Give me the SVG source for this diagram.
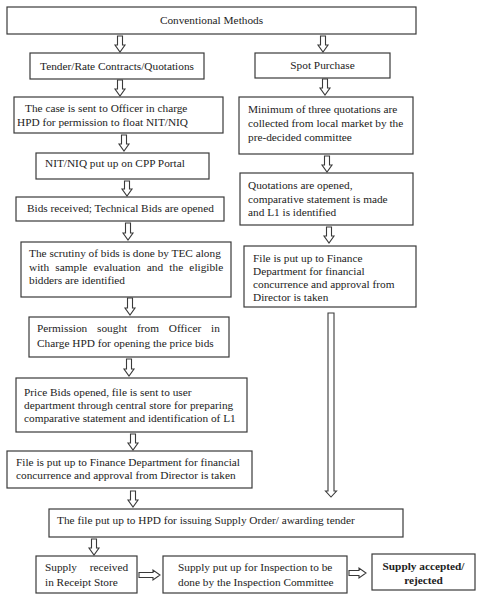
<svg xmlns="http://www.w3.org/2000/svg" width="480" height="596" viewBox="0 0 480 596">
<style>
.box{fill:#fff;stroke:#3a3a3a;stroke-width:1.2}
.t{font-family:"Liberation Serif","Times New Roman",serif;font-size:11.3px;fill:#222}
.c{text-anchor:middle}
.b{font-weight:bold}
.arr{fill:#fff;stroke:#3a3a3a;stroke-width:1.1;stroke-linejoin:miter}
</style>
<rect width="480" height="596" fill="#fff"/>
<g id="connectors">
<path class="arr" d="M117.5 36 V45 H115 L120 52 L125 45 H122.5 V36 Z"/>
<path class="arr" d="M320.5 36 V45 H318 L323 52 L328 45 H325.5 V36 Z"/>
<path class="arr" d="M117.5 80 V89 H115 L120 96 L125 89 H122.5 V80 Z"/>
<path class="arr" d="M322.5 79 V88 H320 L325 95 L330 88 H327.5 V79 Z"/>
<path class="arr" d="M121.5 135 V144 H119 L124 151 L129 144 H126.5 V135 Z"/>
<path class="arr" d="M324.5 156 V165 H322 L327 172 L332 165 H329.5 V156 Z"/>
<path class="arr" d="M124.5 181 V189 H122 L127 196 L132 189 H129.5 V181 Z"/>
<path class="arr" d="M326.5 227 V236 H324 L329 243 L334 236 H331.5 V227 Z"/>
<path class="arr" d="M125.5 223 V233 H123 L128 240 L133 233 H130.5 V223 Z"/>
<path class="arr" d="M127.5 298 V308 H125 L130 315 L135 308 H132.5 V298 Z"/>
<path class="arr" d="M328 313 V491 H325.5 L331 497 L336.5 491 H334 V313 Z"/>
<path class="arr" d="M126.5 359 V369 H124 L129 376 L134 369 H131.5 V359 Z"/>
<path class="arr" d="M130.5 434 V443 H128 L133 450 L138 443 H135.5 V434 Z"/>
<path class="arr" d="M130.5 491 V500 H128 L133 507 L138 500 H135.5 V491 Z"/>
<path class="arr" d="M91.5 539 V548 H89 L94 555 L99 548 H96.5 V539 Z"/>
<path class="arr" d="M139 572.5 H153 V570 L160 575 L153 580 V577.5 H139 Z"/>
<path class="arr" d="M349 570.5 H359 V568 L366 573 L359 578 V575.5 H349 Z"/>
</g>
<g id="conventional">
<rect class="box" x="7" y="7" width="409" height="27"/>
<text class="t c" x="211.5" y="24">Conventional Methods</text>
</g>
<g id="tender">
<rect class="box" x="30" y="53" width="174" height="26"/>
<text class="t c" x="117" y="70">Tender/Rate Contracts/Quotations</text>
</g>
<g id="spot">
<rect class="box" x="255" y="53" width="135" height="25"/>
<text class="t c" x="322.5" y="69">Spot Purchase</text>
</g>
<g id="case">
<rect class="box" x="14" y="97" width="209" height="36"/>
<text class="t" x="25" y="112">The case is sent to Officer in charge</text>
<text class="t" x="17" y="126">HPD for permission to float NIT/NIQ</text>
</g>
<g id="nit">
<rect class="box" x="36" y="153" width="173" height="26"/>
<text class="t" x="45" y="167">NIT/NIQ put up on CPP Portal</text>
</g>
<g id="bids">
<rect class="box" x="16" y="197" width="208" height="24"/>
<text class="t" x="27" y="212">Bids received; Technical Bids are opened</text>
</g>
<g id="scrutiny">
<rect class="box" x="21" y="242" width="210" height="55"/>
<text class="t" x="29" y="257">The scrutiny of bids is done by TEC along</text>
<text class="t" x="29" y="271" word-spacing="3.4">with sample evaluation and the eligible</text>
<text class="t" x="29" y="284">bidders are identified</text>
</g>
<g id="permission">
<rect class="box" x="29" y="317" width="200" height="40"/>
<text class="t" x="37" y="332" word-spacing="7">Permission sought from Officer in</text>
<text class="t" x="37" y="347">Charge HPD for opening the price bids</text>
</g>
<g id="price">
<rect class="box" x="16" y="378" width="231" height="54"/>
<text class="t" x="24" y="396">Price Bids opened, file is sent to user</text>
<text class="t" x="24" y="409">department through central store for preparing</text>
<text class="t" x="24" y="422">comparative statement and identification of L1</text>
</g>
<g id="finance-left">
<rect class="box" x="7" y="451" width="245" height="37"/>
<text class="t" x="16" y="466">File is put up to Finance Department for financial</text>
<text class="t" x="16" y="479">concurrence and approval from Director is taken</text>
</g>
<g id="minimum">
<rect class="box" x="239" y="97" width="174" height="57"/>
<text class="t" x="248" y="113">Minimum of three quotations are</text>
<text class="t" x="248" y="127">collected from local market by the</text>
<text class="t" x="248" y="141">pre-decided committee</text>
</g>
<g id="quotations">
<rect class="box" x="240" y="173" width="173" height="52"/>
<text class="t" x="248" y="189">Quotations are opened,</text>
<text class="t" x="248" y="203">comparative statement is made</text>
<text class="t" x="248" y="216">and L1 is identified</text>
</g>
<g id="finance-right">
<rect class="box" x="244" y="246" width="172" height="61"/>
<text class="t" x="253" y="262">File is put up to Finance</text>
<text class="t" x="253" y="275">Department for financial</text>
<text class="t" x="253" y="288">concurrence and approval from</text>
<text class="t" x="253" y="301">Director is taken</text>
</g>
<g id="hpd">
<rect class="box" x="49" y="509" width="354" height="28"/>
<text class="t" x="57" y="524">The file put up to HPD for issuing Supply Order/ awarding tender</text>
</g>
<g id="receipt">
<rect class="box" x="36" y="556" width="101" height="37"/>
<text class="t" x="45" y="571" word-spacing="10">Supply received</text>
<text class="t" x="45" y="586">in Receipt Store</text>
</g>
<g id="inspection">
<rect class="box" x="163" y="556" width="184" height="37"/>
<text class="t" x="178" y="571">Supply put up for Inspection to be</text>
<text class="t" x="178" y="586">done by the Inspection Committee</text>
</g>
<g id="accepted">
<rect class="box" x="372" y="554" width="103" height="36"/>
<text class="t c b" x="423.5" y="570">Supply accepted/</text>
<text class="t c b" x="423.5" y="584">rejected</text>
</g>
</svg>
